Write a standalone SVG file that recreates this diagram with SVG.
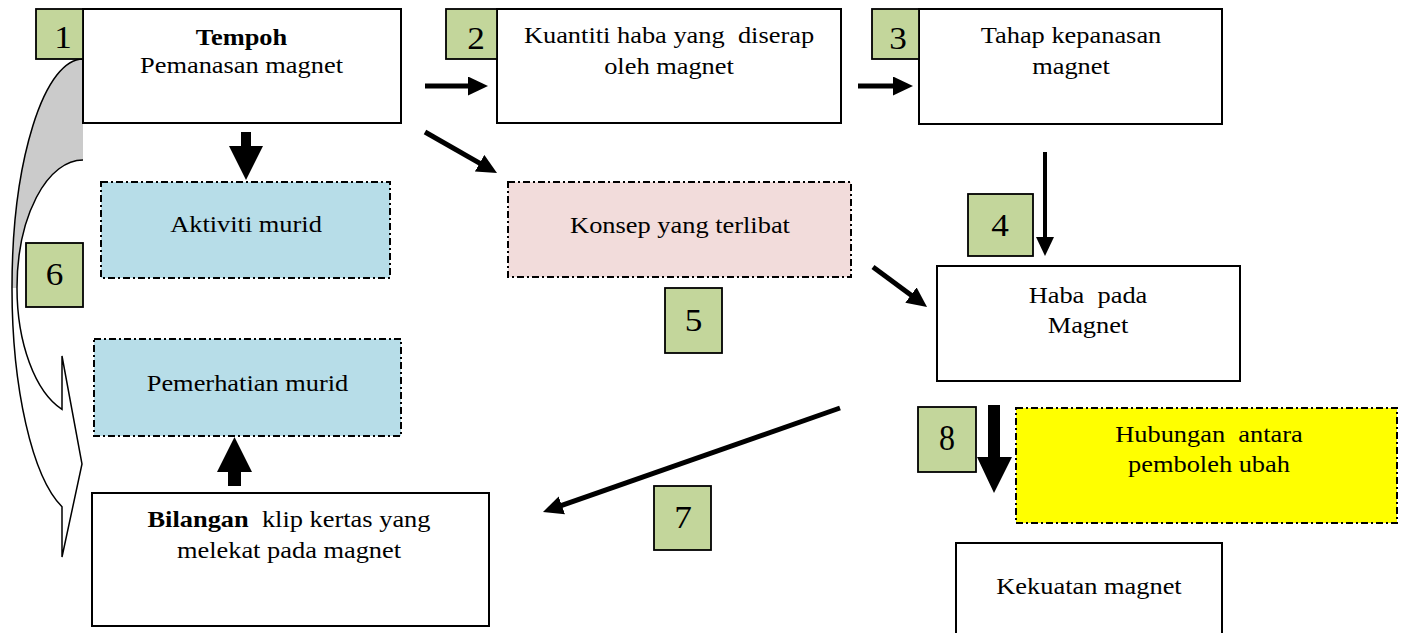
<svg xmlns="http://www.w3.org/2000/svg" width="1404" height="633" viewBox="0 0 1404 633">
<style>
.box{fill:#fff;stroke:#000;stroke-width:2}
.dd{stroke:#000;stroke-width:2;stroke-dasharray:7 3 2 3}
.num{fill:#C3D69B;stroke:#000;stroke-width:1.8}
.t{font-family:"Liberation Serif","Times New Roman",serif;font-size:24px;text-anchor:middle;fill:#000}
.n{font-size:32px}
.conn{stroke:#000;stroke-width:5;fill:none;marker-end:url(#ah)}
.blk{fill:#000;stroke:none}
.cv{fill:none;stroke:#000;stroke-width:1.5}
</style>
<defs>
<marker id="ah" markerUnits="userSpaceOnUse" markerWidth="20" markerHeight="19" refX="10" refY="9.5" orient="auto" viewBox="0 0 20 19">
<path d="M0,0 L20,9.5 L0,19 Z" fill="#000"/>
</marker>
</defs>
<rect width="1404" height="633" fill="#fff"/>

<g id="connectors">
  <g id="curved-arrow-6">
    <path d="M83,59 A71,229 0 0 0 12,288 L17,288 A66,128 0 0 1 83,160 Z" fill="#cbcbcb" stroke="none"/>
    <path class="cv" d="M83,59 A71,229 0 0 0 12,288"/>
    <path class="cv" d="M83,160 A66,128 0 0 0 17,288"/>
    <path d="M12,288 A71,229 0 0 0 62,506.8 L62,557 L82,464 L62,356 L62,409.4 A66,128 0 0 1 17,288 Z" fill="#fff" stroke="none"/>
    <path class="cv" d="M17,288 A66,128 0 0 0 62,409.4 L62,356 L82,464 L62,557 L62,506.8 A71,229 0 0 1 12,288"/>
  </g>
  <line class="conn" x1="425" y1="86" x2="478" y2="86"/>
  <line class="conn" x1="858" y1="86" x2="903" y2="86"/>
  <line class="conn" x1="425" y1="132" x2="488.3" y2="168.1"/>
  <line class="conn" x1="873" y1="267" x2="919" y2="301"/>
  <line class="conn" x1="840" y1="408" x2="552.4" y2="508.7"/>
  <line x1="1045" y1="152" x2="1045" y2="240" stroke="#000" stroke-width="4"/>
  <polygon class="blk" points="1036,237 1054,237 1045,256"/>
  <polygon class="blk" points="241,132 251,132 251,146 263,146 246,180 229,146 241,146"/>
  <polygon class="blk" points="228,486 241,486 241,472 252,472 234.5,437 217,472 228,472"/>
  <polygon class="blk" points="988,405 1000,405 1000,457 1012,457 994,493 977,457 988,457"/>
</g>

<g id="node1">
  <rect class="box" x="83" y="9" width="318" height="114"/>
  <g transform="translate(241.5,0) scale(1.1,1)"><text class="t" x="0" y="45" font-weight="bold">Tempoh</text><text class="t" x="0" y="73">Pemanasan magnet</text></g>
</g>
<g id="node2">
  <rect class="box" x="497" y="9" width="344" height="114"/>
  <g transform="translate(669,0) scale(1.1,1)"><text class="t" x="0" y="43" xml:space="preserve">Kuantiti haba yang  diserap</text><text class="t" x="0" y="74">oleh magnet</text></g>
</g>
<g id="node3">
  <rect class="box" x="919" y="9" width="303" height="115"/>
  <g transform="translate(1071,0) scale(1.1,1)"><text class="t" x="0" y="43">Tahap kepanasan</text><text class="t" x="0" y="74">magnet</text></g>
</g>
<g id="node-aktiviti">
  <rect class="dd" x="101" y="182" width="289" height="96" fill="#B7DDE8"/>
  <g transform="translate(246,0) scale(1.1,1)"><text class="t" x="0" y="232">Aktiviti murid</text></g>
</g>
<g id="node-konsep">
  <rect class="dd" x="508" y="182" width="343" height="95" fill="#F2DCDB"/>
  <g transform="translate(680,0) scale(1.1,1)"><text class="t" x="0" y="233">Konsep yang terlibat</text></g>
</g>
<g id="node-haba">
  <rect class="box" x="937" y="266" width="303" height="115"/>
  <g transform="translate(1088,0) scale(1.1,1)"><text class="t" x="0" y="303" xml:space="preserve">Haba  pada</text><text class="t" x="0" y="333">Magnet</text></g>
</g>
<g id="node-pemerhatian">
  <rect class="dd" x="94" y="339" width="307" height="97" fill="#B7DDE8"/>
  <g transform="translate(247.5,0) scale(1.1,1)"><text class="t" x="0" y="391">Pemerhatian murid</text></g>
</g>
<g id="node-bilangan">
  <rect class="box" x="92" y="493" width="397" height="133"/>
  <g transform="translate(289,0) scale(1.1,1)"><text class="t" x="0" y="527" xml:space="preserve"><tspan font-weight="bold">Bilangan</tspan>  klip kertas yang</text><text class="t" x="0" y="558">melekat pada magnet</text></g>
</g>
<g id="node-hubungan">
  <rect class="dd" x="1016" y="408" width="381" height="115" fill="#FFFF00"/>
  <g transform="translate(1209,0) scale(1.1,1)"><text class="t" x="0" y="442" xml:space="preserve">Hubungan  antara</text><text class="t" x="0" y="472">pemboleh ubah</text></g>
</g>
<g id="node-kekuatan">
  <rect class="box" x="956" y="543" width="266" height="100"/>
  <g transform="translate(1089,0) scale(1.1,1)"><text class="t" x="0" y="594">Kekuatan magnet</text></g>
</g>

<g id="num1"><rect class="num" x="36" y="9" width="47" height="50"/><g transform="translate(63,0) scale(1.1,1)"><text class="t n" x="0" y="48">1</text></g></g>
<g id="num2"><rect class="num" x="446" y="9" width="51" height="50"/><g transform="translate(476,0) scale(1.1,1)"><text class="t n" x="0" y="49">2</text></g></g>
<g id="num3"><rect class="num" x="872" y="9" width="47" height="50"/><g transform="translate(898,0) scale(1.1,1)"><text class="t n" x="0" y="49">3</text></g></g>
<g id="num4"><rect class="num" x="968" y="194" width="65" height="62"/><g transform="translate(1000,0) scale(1.1,1)"><text class="t n" x="0" y="236">4</text></g></g>
<g id="num5"><rect class="num" x="665" y="288" width="57" height="65"/><g transform="translate(693.5,0) scale(1.1,1)"><text class="t n" x="0" y="331">5</text></g></g>
<g id="num6"><rect class="num" x="26" y="243" width="57" height="64"/><g transform="translate(54.5,0) scale(1.1,1)"><text class="t n" x="0" y="285">6</text></g></g>
<g id="num7"><rect class="num" x="654" y="486" width="57" height="64"/><g transform="translate(683,0) scale(1.1,1)"><text class="t n" x="0" y="528">7</text></g></g>
<g id="num8"><rect class="num" x="918" y="407" width="58" height="65"/><g transform="translate(947,0) scale(1,1.1)"><text class="t n" x="0" y="409">8</text></g></g>
</svg>
